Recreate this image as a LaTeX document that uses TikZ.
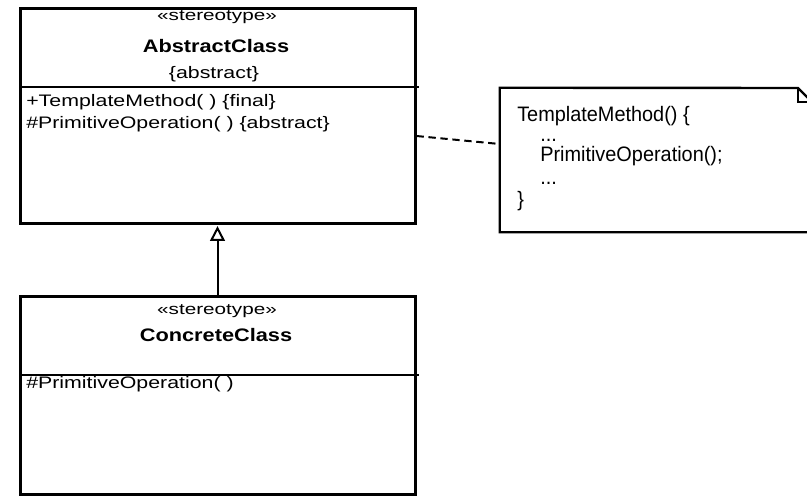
\documentclass[tikz,border=0pt]{standalone}
\usepackage{fontspec}
\setmainfont{Liberation Sans}
\newfontfamily\clsfont{Liberation Sans}[FakeStretch=1.28]
\newfontfamily\stfont{Liberation Sans}[FakeStretch=1.35]
\newfontfamily\ttlfont{Liberation Sans}[FakeStretch=1.2]
\newfontfamily\notefont{Liberation Sans}[FakeStretch=0.95]
\usetikzlibrary{fit,calc,arrows.meta}
\tikzset{
  classbox/.style={draw, line width=2.25pt, inner sep=0pt},
  sepline/.style={line width=1.1pt},
  stereo/.style={anchor=base, inner sep=0pt, font=\stfont\fontsize{11.5pt}{13pt}\selectfont},
  title/.style={anchor=base, inner sep=0pt, font=\ttlfont\bfseries\fontsize{13.6pt}{15pt}\selectfont},
  prop/.style={anchor=base, inner sep=0pt, font=\clsfont\fontsize{12.5pt}{14pt}\selectfont},
  oper/.style={anchor=base west, inner sep=0pt, font=\clsfont\fontsize{12.5pt}{14pt}\selectfont},
  notetext/.style={anchor=base west, inner sep=0pt, font=\notefont\fontsize{15.7pt}{17pt}\selectfont},
  notebox/.style={inner sep=0pt},
  inherit/.style={line width=1.5pt, -{Triangle[open, length=11pt, width=11pt]}, shorten >=1.2pt},
  anchorline/.style={line width=1.5pt, dash pattern=on 5.5pt off 3.5pt}
}
\begin{document}
\begin{tikzpicture}[x=0.75pt, y=-0.75pt]
\clip (0,0) rectangle (807,496);
\fill[white] (0,0) rectangle (807,496);
% Abstract class
\node[classbox, fit={(20,8) (415,223)}] (abs) {};
\draw[sepline] (20,87) coordinate (absSepL) -- (419,87) coordinate (absSepR);
\node[stereo] (absSt) at (217,21) {«stereotype»};
\node[title] (absTitle) at (216,52) {AbstractClass};
\node[prop] (absProp) at (214,78) {\{abstract\}};
\node[oper] (absOp1) at (26,106) {+TemplateMethod( ) \{final\}};
\node[oper] (absOp2) at (26,128) {\#PrimitiveOperation( ) \{abstract\}};
% Concrete class
\node[classbox, fit={(20,296) (415,494)}] (conc) {};
\draw[sepline] (20,375) coordinate (concSepL) -- (419,375) coordinate (concSepR);
\node[stereo] (concSt) at (217,314) {«stereotype»};
\node[title] (concTitle) at (216,341) {ConcreteClass};
\node[oper] (concOp1) at (26,388) {\#PrimitiveOperation( )};
% Note
\node[notebox, fit={(500,88) (812,232)}] (note) {};
\draw[line width=1.8pt] (note.north west) -- (798,88) coordinate (foldA) -- (812,102) coordinate (foldB) -- (note.south east) -- (note.south west) -- cycle;
\draw[line width=1.5pt] (foldA) -- (798,102) -- (foldB);
\node[notetext] (n1) at (517,121) {TemplateMethod() \{};
\node[notetext] (n2) at (540,141) {...};
\node[notetext] (n3) at (540,161) {PrimitiveOperation();};
\node[notetext] (n4) at (540,184) {...};
\node[notetext] (n5) at (517,206) {\}};
% Connectors
\draw[inherit] (conc.north) -- (abs.south);
\draw[anchorline] ($(abs.east)+(0,20.5)$) -- ($(note.west)+(0,-16)$);
\end{tikzpicture}
\end{document}
